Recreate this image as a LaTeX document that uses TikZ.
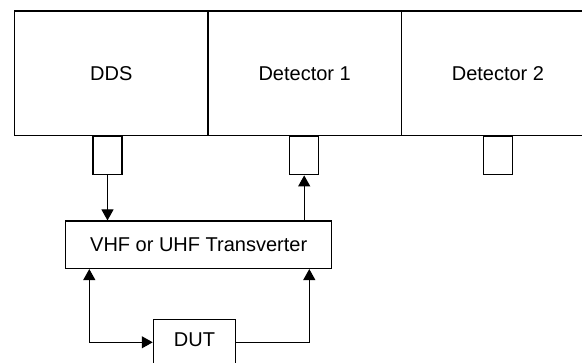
\documentclass[tikz,border=0pt]{standalone}
\usepackage{fontspec}
\setmainfont{Liberation Sans}
\usetikzlibrary{arrows.meta}
\begin{document}
\begin{tikzpicture}[x=1pt,y=-1pt,
  box/.style={draw, line width=1.1pt, inner sep=0pt, font=\fontsize{20}{24}\selectfont},
  unitbox/.style={box, minimum width=193.3pt, minimum height=124.5pt},
  portbox/.style={draw, line width=1.1pt, inner sep=0pt, minimum width=29pt, minimum height=38.8pt, anchor=north},
  conn/.style={line width=1.1pt},
  tip/.tip={Triangle[width=12pt,length=11pt]}]
\useasboundingbox (0,0) rectangle (582,363);
\fill[white] (0,0) rectangle (582,363);
\clip (0,0) rectangle (582,363);
% top units
\node[unitbox] (dds) at (111.35,73.25) {DDS};
\node[unitbox] (det1) at (304.65,73.25) {Detector 1};
\node[unitbox] (det2) at (497.95,73.25) {Detector 2};
% ports
\node[portbox] (p1) at (107.5,135.5) {};
\node[portbox] (p2) at (304.2,135.5) {};
\node[portbox] (p3) at (497.8,135.5) {};
% transverter
\node[box, minimum width=266pt, minimum height=47.5pt] (trans) at (198.7,244.75) {VHF or UHF Transverter};
% DUT
\node[box, anchor=north, minimum width=82.4pt, text height=26.9pt, text depth=40pt] (dut) at (194.5,319.3) {DUT};
% corners
\coordinate (cl) at (89.3,342.3);
\coordinate (cr) at (309.3,342.3);
% connectors
\draw[conn,-tip] (p1.south) -- (trans.north -| p1.south);
\draw[conn,-tip] (trans.north -| p2.south) -- (p2.south);
\draw[conn,tip-tip] (trans.south -| cl) -- (cl) -- (cl -| dut.west);
\draw[conn,-tip] (cr -| dut.east) -- (cr) -- (trans.south -| cr);
\end{tikzpicture}
\end{document}
